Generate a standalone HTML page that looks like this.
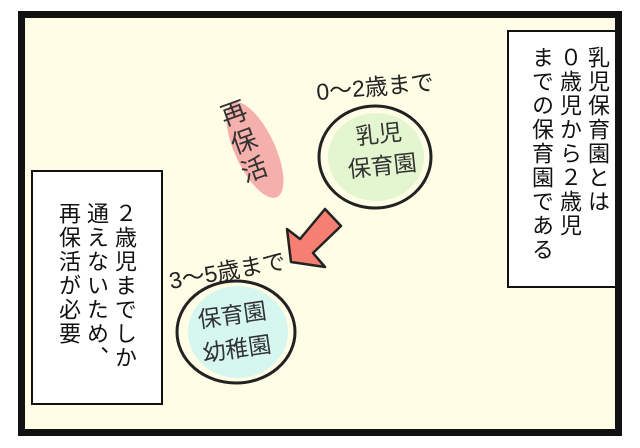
<!DOCTYPE html>
<html><head><meta charset="utf-8"><style>
body{margin:0;width:640px;height:448px;background:#fff;overflow:hidden;position:relative;font-family:"Liberation Sans","Noto Sans CJK JP",sans-serif}
.v{position:absolute;writing-mode:vertical-rl;font-size:22px;line-height:28px;color:#111;letter-spacing:2px}
.box{position:absolute;background:#fff;border:2.5px solid #111;box-sizing:border-box}
.h{position:absolute;font-size:23px;color:#222;white-space:nowrap}
</style></head><body>
<div style="position:absolute;left:18px;top:11px;width:604px;height:425px;border:7px solid #111;box-sizing:border-box;background:#fffde5"></div>
<svg width="640" height="448" style="position:absolute;left:0;top:0">
<ellipse cx="255" cy="150" rx="20" ry="52" transform="rotate(-25 255 150)" fill="#f5b0ab"/>
<ellipse cx="376" cy="157" rx="48" ry="44" fill="#e4f6cf"/>
<ellipse cx="375" cy="157" rx="56" ry="51" fill="none" stroke="#222" stroke-width="3"/>
<ellipse cx="238" cy="332" rx="50" ry="46" fill="#d6f7ef"/>
<ellipse cx="236" cy="332" rx="59" ry="51" fill="none" stroke="#222" stroke-width="3"/>
<polygon points="325,209 341,226 313,253 325,267 291,262 287,229 300,239" fill="#f47f72" stroke="#222" stroke-width="2.5" stroke-linejoin="round"/>
</svg>
<div class="h" style="left:316px;top:68px;transform:rotate(-5deg)">0～2歳まで</div>
<div class="h" style="left:168px;top:252px;transform:rotate(-10deg)">3～5歳まで</div>
<div class="v" style="left:228px;top:98px;font-size:26px;line-height:30px;letter-spacing:4px;transform:rotate(-20deg);color:#333">再保活</div>
<div style="position:absolute;left:346px;top:118px;font-size:23px;line-height:32px;color:#333;text-align:center;transform:rotate(-6deg)">乳児<br>保育園</div>
<div style="position:absolute;left:200px;top:298px;font-size:23px;line-height:34px;color:#333;text-align:center;transform:rotate(-8deg)">保育園<br>幼稚園</div>
<div class="box" style="left:507px;top:30px;width:110px;height:258px"></div>
<div class="v" style="left:527px;top:46px">乳児保育園とは<br>０歳児から２歳児<br>までの保育園である</div>
<div class="box" style="left:31px;top:170px;width:132px;height:235px"></div>
<div class="v" style="left:54px;top:202px">２歳児までしか<br>通えないため、<br>再保活が必要</div>
</body></html>
